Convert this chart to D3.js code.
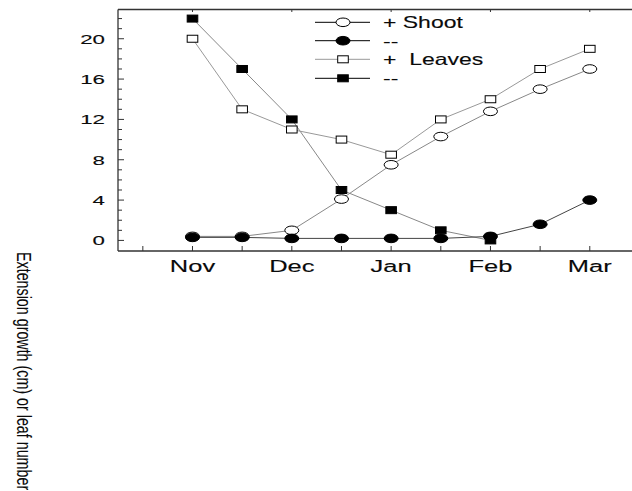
<!DOCTYPE html>
<html>
<head>
<meta charset="utf-8">
<script src="https://cdn.jsdelivr.net/npm/d3@7"></script>
<style>
  body { margin: 0; background: #fff; }
  text { font-family: "Liberation Sans", Arial, sans-serif; fill: #0a0a0a; stroke: #0a0a0a; stroke-width: 0.12px; white-space: pre; }
</style>
</head>
<body>
<svg id="chart" width="632" height="491"></svg>
<script>
// half-month steps, Nov = 0 ... Mar = 8
const steps = [0, 1, 2, 3, 4, 5, 6, 7, 8];
const months = ["Nov", "Dec", "Jan", "Feb", "Mar"];
const yTicks = [0, 4, 8, 12, 16, 20];

const shootPlus  = [0.4, 0.4, 1.0, 4.1, 7.5, 10.3, 12.8, 15.0, 17.0];
const shootMinus = [0.3, 0.3, 0.2, 0.2, 0.2, 0.2, 0.4, 1.6, 4.0];
const leavesPlus = [20, 13, 11, 10, 8.5, 12, 14, 17, 19];
const leavesMinus = [22, 17, 12, 5, 3, 1, 0];

const legendLabels = ["+ Shoot", "--", "+  Leaves", "--"];

let svg = d3.select("#chart");

let x = d3.scaleLinear().domain([-1.5, 8.85]).range([118, 632]);
let y = d3.scaleLinear().domain([-1.05, 22.9]).range([251, 9.5]);

// text in the picture is stretched sideways
function wideText(g, tx, ty, str, size, sx, anchor) {
    return g.append("text")
        .attr("transform", "translate(" + tx + "," + ty + ") scale(" + sx + ",1)")
        .attr("text-anchor", anchor)
        .style("font-size", size + "px")
        .text(str);
}

// frame: left, top, bottom
let axisColor = "#333";
svg.append("line").attr("x1", 118).attr("x2", 118).attr("y1", 9.5).attr("y2", 251)
    .attr("stroke", axisColor).attr("stroke-width", 1.3);
svg.append("line").attr("x1", 118).attr("x2", 632).attr("y1", 9.5).attr("y2", 9.5)
    .attr("stroke", axisColor).attr("stroke-width", 1.3);
svg.append("line").attr("x1", 118).attr("x2", 632).attr("y1", 251).attr("y2", 251)
    .attr("stroke", axisColor).attr("stroke-width", 1.3);

// y ticks every unit, longer at labelled ones
let minor = d3.range(0, 23);
svg.selectAll(".ytick").data(minor).join("line")
    .attr("x1", 118).attr("x2", d => yTicks.includes(d) ? 124 : 122)
    .attr("y1", d => y(d)).attr("y2", d => y(d))
    .attr("stroke", axisColor).attr("stroke-width", 1);

yTicks.forEach(v => wideText(svg, 105, y(v) + 5, v, 13.5, 1.65, "end"));

// bottom ticks at half months, top ticks at months
svg.selectAll(".xtick").data(d3.range(-1, 9)).join("line")
    .attr("x1", d => x(d)).attr("x2", d => x(d))
    .attr("y1", 251).attr("y2", 246)
    .attr("stroke", axisColor).attr("stroke-width", 1);
svg.selectAll(".ttick").data([0, 2, 4, 6, 8]).join("line")
    .attr("x1", d => x(d)).attr("x2", d => x(d))
    .attr("y1", 9.5).attr("y2", 12)
    .attr("stroke", axisColor).attr("stroke-width", 1);

months.forEach((m, i) => wideText(svg, x(i * 2), 271.5, m, 17, 1.5, "middle"));

// y axis label, rotated, down the left side
svg.append("text")
    .attr("transform", "translate(17,252) scale(1.4,1) rotate(90)")
    .attr("text-anchor", "start")
    .style("font-size", "14.3px")
    .style("stroke-width", "0.05px")
    .text("Extension growth (cm) or leaf number");

let line = d3.line().x((d, i) => x(steps[i])).y(d => y(d));

let series = [
    { values: leavesMinus, shape: "square", fill: "#000", stroke: "#888" },
    { values: leavesPlus, shape: "square", fill: "#fff", stroke: "#999" },
    { values: shootPlus, shape: "circle", fill: "#fff", stroke: "#888" },
    { values: shootMinus, shape: "circle", fill: "#000", stroke: "#444" }
];

function marker(g, cx, cy, s) {
    if (s.shape === "circle") {
        g.append("ellipse").attr("cx", cx).attr("cy", cy).attr("rx", 7).attr("ry", 4.3)
            .attr("fill", s.fill).attr("stroke", "#000").attr("stroke-width", 1);
    } else {
        g.append("rect").attr("x", cx - 5.3).attr("y", cy - 3.5).attr("width", 10.6).attr("height", 7)
            .attr("fill", s.fill).attr("stroke", "#000").attr("stroke-width", 1);
    }
}

series.forEach(s => {
    svg.append("path").attr("d", line(s.values))
        .attr("fill", "none").attr("stroke", s.stroke).attr("stroke-width", 1);
});
series.forEach(s => {
    let g = svg.append("g");
    s.values.forEach((v, i) => marker(g, x(steps[i]), y(v), s));
});

// legend
let legendSeries = [series[2], series[3], series[1], series[0]];
let legendLineColors = ["#000", "#000", "#999", "#000"];
let rowY = [22.3, 40.7, 59.3, 78.3];
legendSeries.forEach((s, i) => {
    let g = svg.append("g");
    g.append("line").attr("x1", 315).attr("x2", 370).attr("y1", rowY[i]).attr("y2", rowY[i])
        .attr("stroke", legendLineColors[i]).attr("stroke-width", 1);
    marker(g, 343, rowY[i], s);
    wideText(g, 383, rowY[i] + 6, legendLabels[i], 16.3, 1.41, "start");
});
</script>
</body>
</html>
